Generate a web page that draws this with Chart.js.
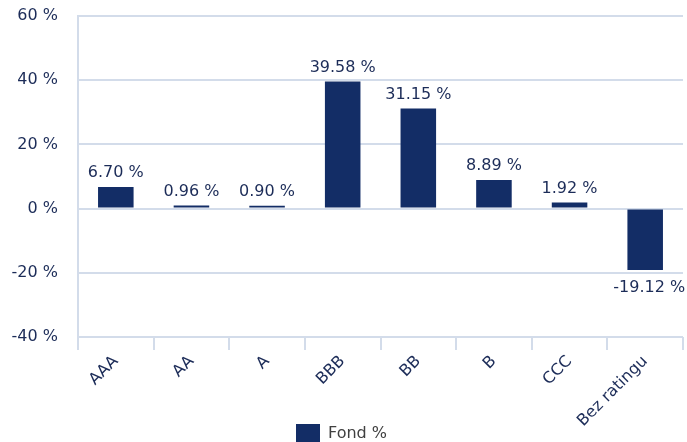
<!DOCTYPE html>
<html>
<head>
<meta charset="utf-8">
<script src="https://cdn.jsdelivr.net/npm/chart.js@4"></script>
<style>
    html, body { margin: 0; padding: 0; background: #fff; overflow: hidden; }
    #wrap { width: 687px; height: 454px; }
</style>
</head>
<body>
<div id="wrap"><canvas id="rating-chart"></canvas></div>
<script>
// Rating breakdown
const categories = ['AAA', 'AA', 'A', 'BBB', 'BB', 'B', 'CCC', 'Bez ratingu'];
const fundValues = [6.70, 0.96, 0.90, 39.58, 31.15, 8.89, 1.92, -19.12];
const yTicks = [-40, -20, 0, 20, 40, 60];

const navy = '#132d66';
const textColor = '#1c2c58';
const gridColor = '#d3dcea';
const font = { family: 'DejaVu Sans', size: 16 };

// value labels above / below each bar
const valueLabels = {
    id: 'valueLabels',
    afterDatasetsDraw(chart) {
        const ctx = chart.ctx;
        const meta = chart.getDatasetMeta(0);
        ctx.save();
        ctx.font = font.size + 'px ' + font.family;
        ctx.fillStyle = textColor;
        ctx.textAlign = 'center';
        meta.data.forEach((bar, i) => {
            const v = fundValues[i];
            const txt = v.toFixed(2) + ' %';
            if (v >= 0) {
                ctx.textBaseline = 'bottom';
                ctx.fillText(txt, bar.x, bar.y - 6);
            } else {
                ctx.textBaseline = 'top';
                ctx.fillText(txt, bar.x + 4, bar.y + 10);
            }
        });
        ctx.restore();
    }
};

new Chart(document.getElementById('rating-chart'), {
    type: 'bar',
    data: {
        labels: categories,
        datasets: [{
            label: 'Fond %',
            data: fundValues,
            backgroundColor: navy,
            borderWidth: 0,
            categoryPercentage: 0.94,
            barPercentage: 0.5
        }]
    },
    options: {
        responsive: true,
        maintainAspectRatio: false,
        animation: false,
        layout: { padding: { top: 16, right: 4, left: 0, bottom: 0 } },
        plugins: {
            tooltip: { enabled: false },
            legend: {
                position: 'bottom',
                labels: {
                    boxWidth: 24,
                    boxHeight: 20,
                    padding: 3,
                    color: '#404040',
                    font: font
                }
            }
        },
        scales: {
            x: {
                grid: {
                    offset: true,
                    drawOnChartArea: false,
                    color: gridColor,
                    lineWidth: 2,
                    tickLength: 13
                },
                border: { display: false },
                ticks: {
                    color: textColor,
                    font: font,
                    maxRotation: 45,
                    minRotation: 45,
                    padding: 2
                },
                afterFit: scale => {
                    scale.height = 84;
                    // let the long rotated label run into the legend area
                    scale._computeLabelArea = () => null;
                }
            },
            y: {
                min: yTicks[0],
                max: yTicks[yTicks.length - 1],
                afterBuildTicks: scale => { scale.ticks = yTicks.map(v => ({ value: v })); },
                grid: {
                    color: gridColor,
                    lineWidth: 2,
                    drawTicks: false
                },
                border: { display: true, color: gridColor, width: 2 },
                ticks: {
                    color: textColor,
                    font: font,
                    padding: 20,
                    callback: v => v + ' %'
                },
                afterFit: scale => {
                    scale.width = 78;
                    scale.paddingTop = 0;
                    scale.paddingBottom = 0;
                }
            }
        }
    },
    plugins: [valueLabels]
});
</script>
</body>
</html>
